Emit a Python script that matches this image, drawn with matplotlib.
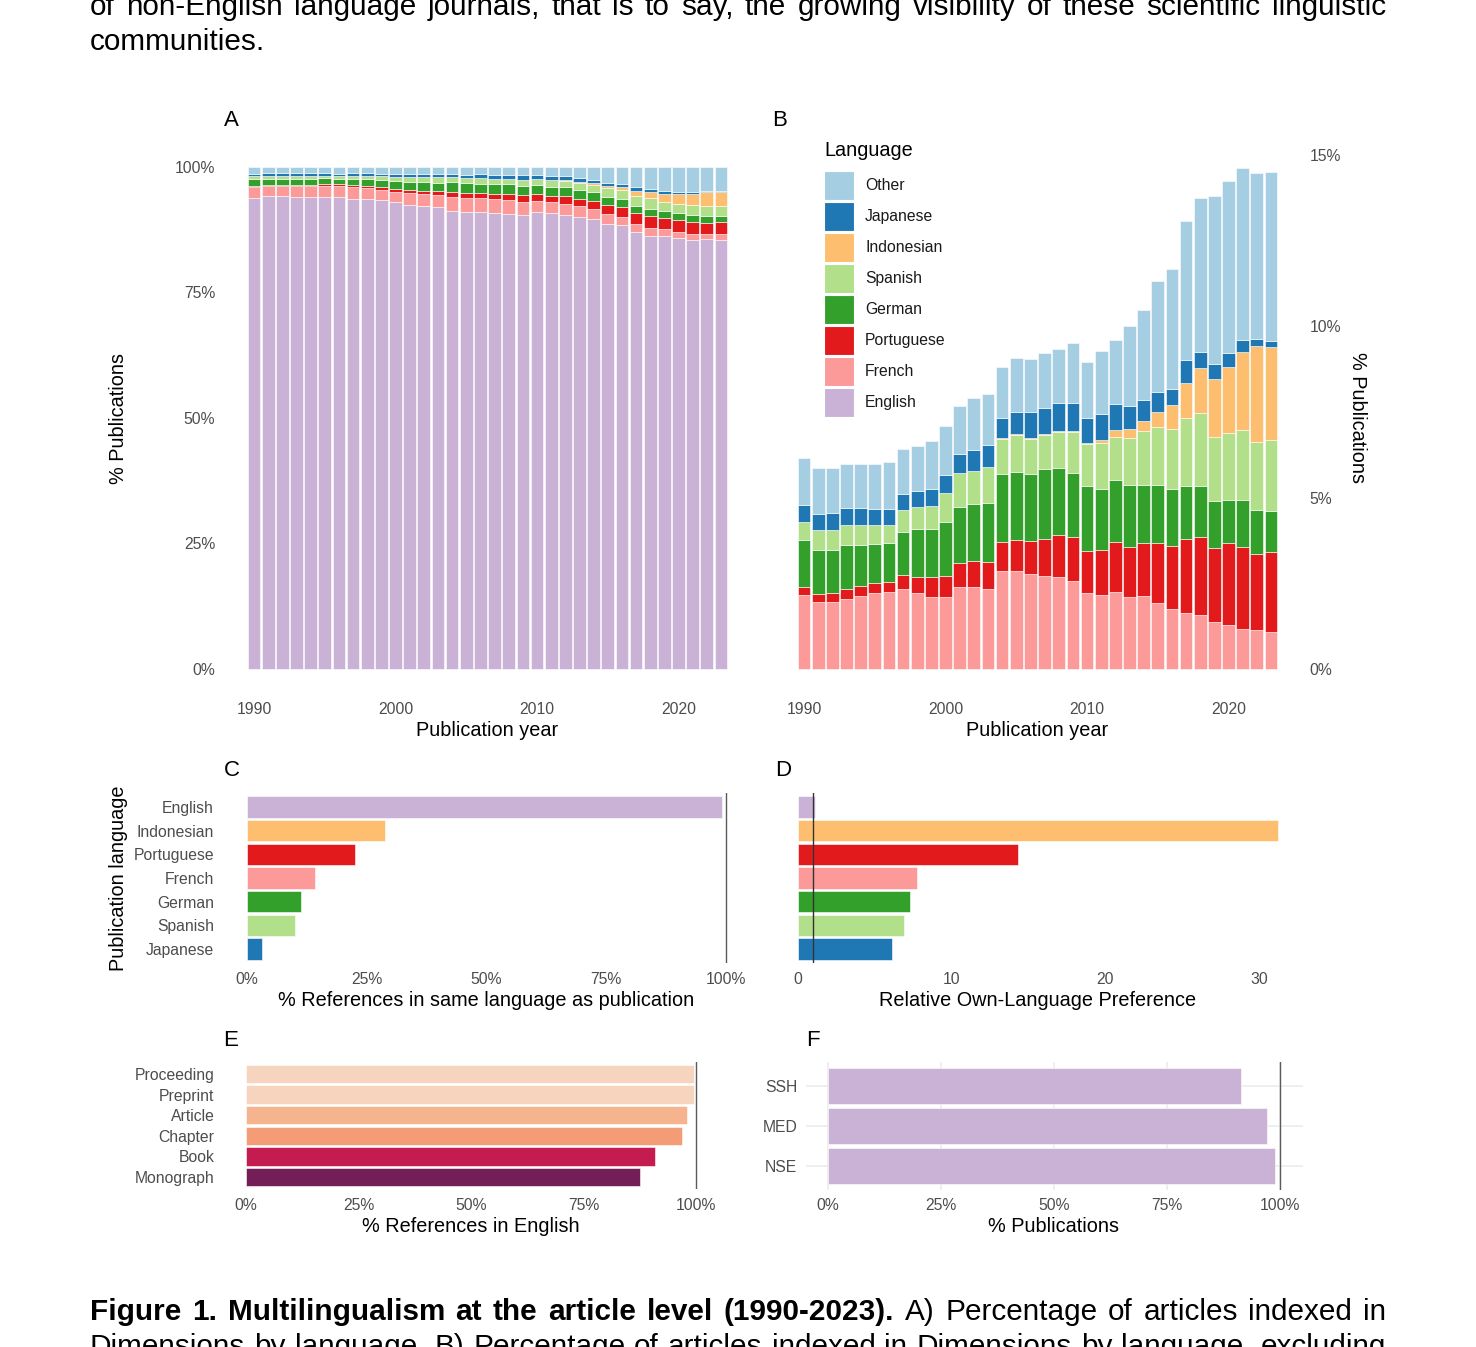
import matplotlib
matplotlib.use("Agg")
import matplotlib.pyplot as plt
import numpy as np
from matplotlib.patches import Rectangle

W, H = 1476, 1347
FONT = "Liberation Sans"
TICK_SIZE = 11.3
TITLE_SIZE = 14.3
TICK_COLOR = "#4D4D4D"

# ---- panel A / B : share of publications per year (%, excluding English)
years = np.arange(1990, 2024)
french = [2.16, 1.94, 1.96, 2.04, 2.14, 2.21, 2.24, 2.33, 2.22, 2.11, 2.11, 2.39, 2.39, 2.33, 2.86, 2.85, 2.76,
          2.70, 2.67, 2.57, 2.21, 2.17, 2.24, 2.11, 2.13, 1.92, 1.76, 1.62, 1.57, 1.36, 1.27, 1.17, 1.13, 1.08]
portuguese = [0.22, 0.24, 0.26, 0.29, 0.28, 0.29, 0.30, 0.41, 0.47, 0.57, 0.60, 0.69, 0.75, 0.80, 0.83, 0.90, 0.96,
              1.10, 1.24, 1.27, 1.23, 1.29, 1.45, 1.44, 1.54, 1.74, 1.83, 2.18, 2.27, 2.16, 2.39, 2.39, 2.23, 2.33]
german = [1.39, 1.30, 1.26, 1.29, 1.20, 1.15, 1.13, 1.26, 1.38, 1.40, 1.59, 1.64, 1.67, 1.71, 2.01, 2.01, 1.96,
          2.02, 1.96, 1.89, 1.91, 1.80, 1.82, 1.83, 1.71, 1.71, 1.66, 1.54, 1.50, 1.37, 1.26, 1.38, 1.27, 1.21]
spanish = [0.53, 0.57, 0.57, 0.57, 0.57, 0.56, 0.54, 0.63, 0.66, 0.67, 0.82, 1.00, 0.98, 1.06, 1.02, 1.08, 1.04,
           1.01, 1.03, 1.17, 1.20, 1.34, 1.25, 1.36, 1.55, 1.68, 1.75, 1.99, 2.12, 1.89, 1.96, 2.02, 1.99, 2.07]
indonesian = [0.00, 0.00, 0.00, 0.00, 0.00, 0.00, 0.00, 0.00, 0.00, 0.00, 0.00, 0.00, 0.00, 0.00, 0.02, 0.03, 0.03,
              0.03, 0.03, 0.03, 0.04, 0.09, 0.21, 0.26, 0.30, 0.46, 0.70, 1.00, 1.31, 1.67, 1.92, 2.30, 2.81, 2.70]
japanese = [0.47, 0.48, 0.49, 0.50, 0.51, 0.47, 0.47, 0.46, 0.46, 0.49, 0.53, 0.55, 0.59, 0.63, 0.58, 0.64, 0.74,
            0.74, 0.82, 0.84, 0.72, 0.76, 0.77, 0.68, 0.63, 0.56, 0.46, 0.69, 0.47, 0.45, 0.41, 0.33, 0.20, 0.18]
other = [1.39, 1.33, 1.32, 1.28, 1.28, 1.30, 1.37, 1.34, 1.33, 1.41, 1.44, 1.40, 1.52, 1.50, 1.49, 1.56, 1.55,
         1.61, 1.59, 1.75, 1.66, 1.83, 1.85, 2.33, 2.62, 3.25, 3.52, 4.06, 4.50, 4.89, 5.02, 5.03, 4.84, 4.93]

stack_names = ["French", "Portuguese", "German", "Spanish", "Indonesian", "Japanese", "Other"]
stack_values = [french, portuguese, german, spanish, indonesian, japanese, other]
lang_colors = {
    "English": "#CAB2D6", "French": "#FB9A99", "Portuguese": "#E31A1C", "German": "#33A02C",
    "Spanish": "#B2DF8A", "Indonesian": "#FDBF6F", "Japanese": "#1F78B4", "Other": "#A6CEE3",
}
legend_order = ["Other", "Japanese", "Indonesian", "Spanish", "German", "Portuguese", "French", "English"]

# ---- panel C / D
pub_languages = ["English", "Indonesian", "Portuguese", "French", "German", "Spanish", "Japanese"]
same_lang_refs = [99.1, 28.9, 22.5, 14.3, 11.3, 10.1, 3.2]
own_lang_pref = [1.14, 31.2, 14.3, 7.74, 7.30, 6.93, 6.12]

# ---- panel E
doc_types = ["Proceeding", "Preprint", "Article", "Chapter", "Book", "Monograph"]
english_refs = [99.6, 99.5, 98.0, 96.8, 90.9, 87.5]
doc_colors = ["#F7D4BE", "#F7D4BE", "#F5B38E", "#F39C76", "#C41B50", "#731E56"]

# ---- panel F
fields = ["SSH", "MED", "NSE"]
english_pubs = [91.4, 97.2, 98.9]


def px_axes(fig, left, top, right, bottom):
    return fig.add_axes([left / W, 1 - bottom / H, (right - left) / W, (bottom - top) / H])


def px_text(fig, x, y, s, **kw):
    kw.setdefault("family", FONT)
    kw.setdefault("ha", "center")
    kw.setdefault("va", "center")
    return fig.text(x / W, 1 - y / H, s, **kw)


def clean(ax):
    for sp in ax.spines.values():
        sp.set_visible(False)
    ax.tick_params(length=0, labelsize=TICK_SIZE, labelcolor=TICK_COLOR)
    for lab in ax.get_xticklabels() + ax.get_yticklabels():
        lab.set_family(FONT)


def pct_fmt(vals):
    return [f"{v:g}%" for v in vals]


def justified_line(fig, words, y, x0, x1, size):
    renderer = fig.canvas.get_renderer()
    texts = [fig.text(0, 1 - y / H, w, fontsize=size, fontweight=wt, family=FONT,
                      ha="left", va="baseline") for w, wt in words]
    widths = [t.get_window_extent(renderer).width for t in texts]
    gap = (x1 - x0 - sum(widths)) / (len(texts) - 1)
    x = x0
    for t, w in zip(texts, widths):
        t.set_x(x / W)
        x += w + gap


fig = plt.figure(figsize=(W / 100, H / 100), dpi=100)

# ------------------------------------------------------------------ A
ax_a = px_axes(fig, 223.6, 141.6, 751.4, 694)
english = 100 - np.sum(stack_values, axis=0)
ax_a.bar(years, english, width=0.9, color=lang_colors["English"], edgecolor="white", linewidth=0.4)
bottom = english.copy()
for name, vals in zip(stack_names, stack_values):
    ax_a.bar(years, vals, bottom=bottom, width=0.9, color=lang_colors[name], edgecolor="white", linewidth=0.4)
    bottom = bottom + np.array(vals)
ax_a.set_xlim(1987.85, 2025.15)
ax_a.set_ylim(-5, 105)
ax_a.set_xticks([1990, 2000, 2010, 2020])
ax_a.set_yticks([0, 25, 50, 75, 100], pct_fmt([0, 25, 50, 75, 100]))
clean(ax_a)
ax_a.tick_params(axis="x", pad=6)
ax_a.tick_params(axis="y", pad=6)

# ------------------------------------------------------------------ B
ax_b = px_axes(fig, 773.6, 141.6, 1301.4, 694)
bottom = np.zeros(len(years))
for name, vals in zip(stack_names, stack_values):
    ax_b.bar(years, vals, bottom=bottom, width=0.9, color=lang_colors[name], edgecolor="white", linewidth=0.4)
    bottom = bottom + np.array(vals)
ax_b.set_xlim(1987.85, 2025.15)
ax_b.set_ylim(-0.733, 15.39)
ax_b.set_xticks([1990, 2000, 2010, 2020])
ax_b.set_yticks([0, 5, 10, 15], pct_fmt([0, 5, 10, 15]))
ax_b.yaxis.tick_right()
clean(ax_b)
ax_b.tick_params(axis="x", pad=6)
ax_b.tick_params(axis="y", pad=6)

# legend drawn in figure pixels
px_text(fig, 824, 151, "Language", fontsize=TITLE_SIZE, ha="left")
for i, name in enumerate(legend_order):
    top = 171 + 31 * i
    fig.add_artist(Rectangle((824 / W, 1 - (top + 29) / H), 30 / W, 29 / H, transform=fig.transFigure,
                             facecolor=lang_colors[name], edgecolor="white", linewidth=0.8))
    px_text(fig, 865, top + 14.5, name, fontsize=TICK_SIZE, ha="left", color="#1A1A1A")

# ------------------------------------------------------------------ C
ypos = np.arange(len(pub_languages))
ax_c = px_axes(fig, 223, 792.8, 750, 963.2)
ax_c.barh(ypos, same_lang_refs, height=0.9, color=[lang_colors[l] for l in pub_languages],
          edgecolor="white", linewidth=0.4)
ax_c.axvline(100, color="#5A5A5A", linewidth=1.0)
ax_c.set_xlim(-5, 105)
ax_c.set_ylim(len(pub_languages) - 0.4, -0.6)
ax_c.set_xticks([0, 25, 50, 75, 100], pct_fmt([0, 25, 50, 75, 100]))
ax_c.set_yticks(ypos, pub_languages)
clean(ax_c)
ax_c.tick_params(axis="x", pad=6)
ax_c.tick_params(axis="y", pad=6.5)

# ------------------------------------------------------------------ D
ax_d = px_axes(fig, 774, 792.8, 1301.5, 963.2)
ax_d.barh(ypos, own_lang_pref, height=0.9, color=[lang_colors[l] for l in pub_languages],
          edgecolor="white", linewidth=0.4)
ax_d.axvline(1, color="#333333", linewidth=1.0)
ax_d.set_xlim(-1.56, 32.76)
ax_d.set_ylim(len(pub_languages) - 0.4, -0.6)
ax_d.set_xticks([0, 10, 20, 30])
ax_d.set_yticks([])
clean(ax_d)
ax_d.tick_params(axis="x", pad=6)

# ------------------------------------------------------------------ E
epos = np.arange(len(doc_types))
ax_e = px_axes(fig, 223.5, 1061.6, 718.5, 1189.4)
ax_e.barh(epos, english_refs, height=0.9, color=doc_colors, edgecolor="white", linewidth=0.4)
ax_e.axvline(100, color="#5A5A5A", linewidth=1.0)
ax_e.set_xlim(-5, 105)
ax_e.set_ylim(len(doc_types) - 0.4, -0.6)
ax_e.set_xticks([0, 25, 50, 75, 100], pct_fmt([0, 25, 50, 75, 100]))
ax_e.set_yticks(epos, doc_types)
clean(ax_e)
ax_e.tick_params(axis="x", pad=6)
ax_e.tick_params(axis="y", pad=6.5)

# ------------------------------------------------------------------ F
fpos = np.arange(len(fields))
ax_f = px_axes(fig, 805.5, 1062, 1302.5, 1190)
ax_f.set_axisbelow(True)
ax_f.grid(True, color="#EBEBEB", linewidth=1.1)
ax_f.barh(fpos, english_pubs, height=0.9, color=lang_colors["English"], edgecolor="white", linewidth=0.4)
ax_f.axvline(100, color="#5A5A5A", linewidth=1.0)
ax_f.set_xlim(-5, 105)
ax_f.set_ylim(len(fields) - 0.4, -0.6)
ax_f.set_xticks([0, 25, 50, 75, 100], pct_fmt([0, 25, 50, 75, 100]))
ax_f.set_yticks(fpos, fields)
clean(ax_f)
ax_f.tick_params(axis="x", pad=6)
ax_f.tick_params(axis="y", pad=6)

# ------------------------------------------------------------------ titles and tags
px_text(fig, 487.5, 731, "Publication year", fontsize=TITLE_SIZE)
px_text(fig, 1037.5, 731, "Publication year", fontsize=TITLE_SIZE)
px_text(fig, 118, 418, "% Publications", fontsize=TITLE_SIZE, rotation=90)
px_text(fig, 1357, 418, "% Publications", fontsize=TITLE_SIZE, rotation=270)
px_text(fig, 486.5, 1000, "% References in same language as publication", fontsize=TITLE_SIZE)
px_text(fig, 118, 878, "Publication language", fontsize=TITLE_SIZE, rotation=90)
px_text(fig, 1037.5, 1000, "Relative Own-Language Preference", fontsize=TITLE_SIZE)
px_text(fig, 471, 1227, "% References in English", fontsize=TITLE_SIZE)
px_text(fig, 1054, 1227, "% Publications", fontsize=TITLE_SIZE)
for tag, x, y in [("A", 231, 120), ("B", 780, 120), ("C", 232, 770),
                  ("D", 783, 770), ("E", 231, 1040), ("F", 813, 1040)]:
    px_text(fig, x, y, tag, fontsize=16)

# ------------------------------------------------------------------ surrounding document text
BODY = 21.4
top_line = "of non-English language journals, that is to say, the growing visibility of these scientific linguistic"
justified_line(fig, [(w, "normal") for w in top_line.split()], 15, 90, 1386, BODY)
px_text(fig, 90, 50, "communities.", fontsize=BODY, ha="left", va="baseline")

cap_bold = "Figure 1. Multilingualism at the article level (1990-2023)."
cap_rest = "A) Percentage of articles indexed in"
justified_line(fig, [(w, "bold") for w in cap_bold.split()] + [(w, "normal") for w in cap_rest.split()],
               1320, 90, 1386, BODY)
cap_line2 = "Dimensions by language. B) Percentage of articles indexed in Dimensions by language, excluding"
justified_line(fig, [(w, "normal") for w in cap_line2.split()], 1355, 90, 1386, BODY)

fig.savefig("out.png", dpi=100)
